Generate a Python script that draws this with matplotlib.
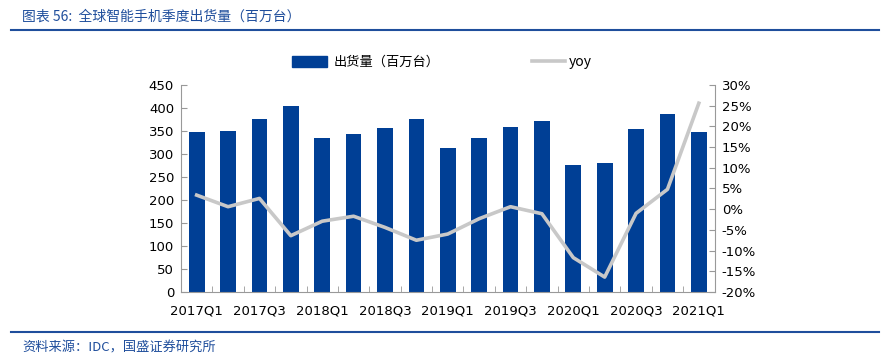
import matplotlib
matplotlib.use("Agg")
import matplotlib.pyplot as plt
import numpy as np
from matplotlib.lines import Line2D
from matplotlib.patches import Patch

plt.rcParams['font.family'] = ['DejaVu Sans', 'Noto Sans CJK SC']

# 数据
quarters = ["2017Q1", "2017Q2", "2017Q3", "2017Q4",
            "2018Q1", "2018Q2", "2018Q3", "2018Q4",
            "2019Q1", "2019Q2", "2019Q3", "2019Q4",
            "2020Q1", "2020Q2", "2020Q3", "2020Q4",
            "2021Q1"]
shipments = [347, 350, 375, 405, 335, 344, 357, 375,
             314, 335, 359, 371, 277, 280, 354, 386, 347]
yoy = [3.4, 0.6, 2.6, -6.4, -2.9, -1.7, -4.4, -7.5,
       -6.0, -2.3, 0.6, -1.1, -11.7, -16.4, -1.0, 4.8, 25.6]

bar_color = "#003f95"
line_color = "#c8c8c8"
title_color = "#1f4e9c"
cjk = ['Noto Sans CJK SC', 'DejaVu Sans']

fig = plt.figure(figsize=(8.88, 3.62), dpi=100)
ax = fig.add_axes([0.2038, 0.1934, 0.6012, 0.5718])
ax2 = ax.twinx()

x = np.arange(len(quarters))
ax.bar(x, shipments, width=0.5, color=bar_color, zorder=2)
ax2.plot(x, yoy, color=line_color, lw=2.6, zorder=3)

ax.set_xlim(-0.47, len(quarters) - 0.49)
ax.set_ylim(0, 450)
ax.set_yticks(np.arange(0, 451, 50))
ax2.set_ylim(-20, 30)
ax2.set_yticks(np.arange(-20, 31, 5))
ax2.set_yticklabels([f"{v}%" for v in range(-20, 31, 5)])

# x 轴: 标签隔一个显示, 刻度线在柱子之间
ax.set_xticks(x[::2])
ax.set_xticklabels(quarters[::2])
ax.set_xticks(np.arange(-0.5, len(quarters), 1), minor=True)
ax.tick_params(axis='x', which='major', length=0, pad=9, labelsize=9.5)
ax.tick_params(axis='x', which='minor', length=4, direction='in', color='#999999')
ax.tick_params(axis='y', length=4, direction='in', color='#999999', labelsize=9.5, pad=5)
ax2.tick_params(axis='y', length=4, direction='in', color='#999999', labelsize=9.5, pad=5)

for a in (ax, ax2):
    a.spines['top'].set_visible(False)
    for s in ('left', 'right', 'bottom'):
        a.spines[s].set_color('#999999')
        a.spines[s].set_linewidth(0.8)
ax.spines['right'].set_visible(False)
ax2.spines['left'].set_visible(False)
ax2.spines['bottom'].set_visible(False)

# 图例
handles = [Patch(color=bar_color), Line2D([0], [0], color=line_color, lw=2.6)]
fig.legend([handles[0]], ["出货量（百万台）"], loc='center left',
           bbox_to_anchor=(0.315, 0.828), frameon=False,
           handlelength=2.7, handleheight=1.0, handletextpad=0.5,
           prop={'family': cjk, 'size': 9.5})
fig.legend([handles[1]], ["yoy"], loc='center left',
           bbox_to_anchor=(0.585, 0.828), frameon=False,
           handlelength=2.4, handletextpad=0.25,
           prop={'family': cjk, 'size': 10})

# 标题与来源
fig.text(0.025, 0.955, "图表 56:  全球智能手机季度出货量（百万台）", color=title_color,
         fontsize=10, family=cjk, va='center', ha='left')
fig.add_artist(Line2D([0.012, 0.99], [0.918, 0.918], color=title_color, lw=1.5))
fig.add_artist(Line2D([0.012, 0.99], [0.083, 0.083], color=title_color, lw=1.5))
fig.text(0.025, 0.04, "资料来源：IDC，国盛证券研究所", color=title_color,
         fontsize=9.5, family=cjk, va='center', ha='left')

fig.savefig("out.png", dpi=100)
